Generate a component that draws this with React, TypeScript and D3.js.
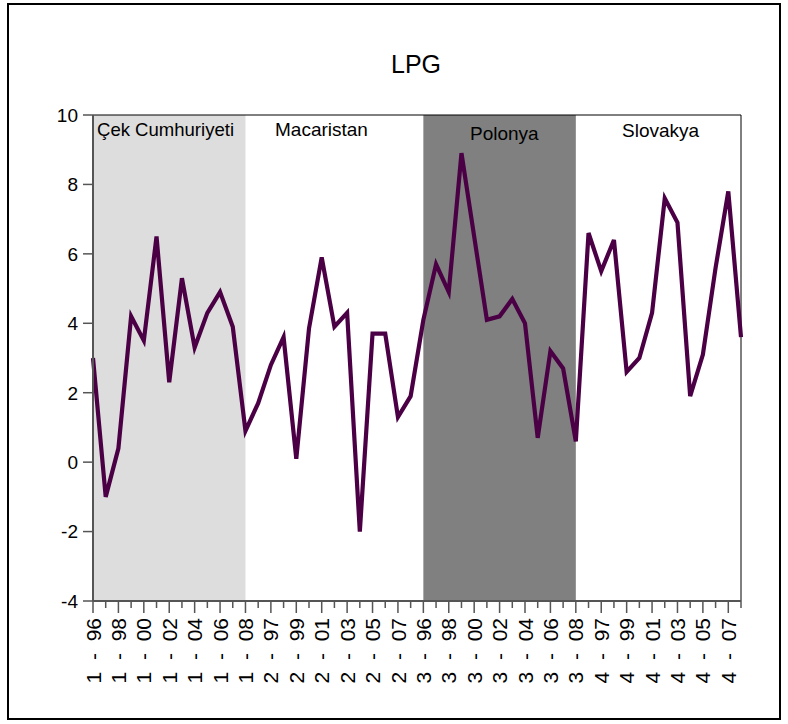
import React from "react";
import * as d3 from "d3";

const title = "LPG";
const panels = ["Çek Cumhuriyeti", "Macaristan", "Polonya", "Slovakya"];
const years = ["96", "97", "98", "99", "00", "01", "02", "03", "04", "05", "06", "07", "08"];
const cekValues = [3.0, -1.0, 0.4, 4.2, 3.5, 6.5, 2.3, 5.3, 3.3, 4.3, 4.9, 3.9, 0.9];
const macValues = [1.7, 2.8, 3.6, 0.1, 3.85, 5.9, 3.9, 4.3, -2.0, 3.7, 3.7, 1.3, 1.9];
const polValues = [4.1, 5.7, 4.9, 8.9, 6.5, 4.1, 4.2, 4.7, 4.0, 0.7, 3.2, 2.7, 0.6];
const slvValues = [6.6, 5.5, 6.4, 2.6, 3.0, 4.3, 7.6, 6.9, 1.9, 3.1, 5.6, 7.8, 3.6];
const yTicks = [-4, -2, 0, 2, 4, 6, 8, 10];

const panelFills = ["#DDDDDD", "none", "#808080", "none"];

const FONT = "'Liberation Sans', Arial, Helvetica, sans-serif";

export default function App() {
  const W = 788, H = 724;
  const left = 93, right = 741, top = 115, bottom = 601;
  const all = [cekValues, macValues, polValues, slvValues].flat();
  const labels: string[] = [];
  panels.forEach((_, p) => years.forEach((y) => labels.push(`${p + 1} - ${y}`)));
  const n = all.length;
  const x = d3.scaleLinear().domain([0, n - 1]).range([left, right]);
  const y = d3.scaleLinear().domain([-4, 10]).range([bottom, top]);
  const line = d3.line<number>().x((_, i) => x(i)).y((d) => y(d));
  const per = years.length;

  const panelLabelPos = [
    { x0: 97, by: 136, len: 137 },
    { x0: 275, by: 136, len: 0 },
    { x0: 470, by: 140, len: 0 },
    { x0: 622, by: 137, len: 0 },
  ];

  return (
    <svg width={W} height={H} style={{ position: "absolute", left: 0, top: 0 }} fontFamily={FONT}>
      <rect x={0} y={0} width={W} height={H} fill="#fff" />
      <rect x={8} y={4} width={772} height={715} fill="none" stroke="#000" strokeWidth={2} />
      <text x={416} y={73} fontSize={25} textAnchor="middle" fill="#000">{title}</text>
      {/* shading */}
      {panels.map((_, p) =>
        panelFills[p] === "none" ? null : (
          <rect key={p} x={x(p * per)} y={top} width={x(p * per + per - 1) - x(p * per)} height={bottom - top} fill={panelFills[p]} />
        )
      )}
      {/* frame top/right */}
      <line x1={left} x2={right} y1={top} y2={top} stroke="#000" strokeWidth={1} />
      <line x1={right} x2={right} y1={top} y2={bottom} stroke="#000" strokeWidth={1} />
      {/* panel labels */}
      {panels.map((name, p) => (
        <text
          key={name}
          x={panelLabelPos[p].x0}
          y={panelLabelPos[p].by}
          fontSize={19}
          textAnchor="start"
          fill="#000"
          {...(panelLabelPos[p].len ? { textLength: panelLabelPos[p].len, lengthAdjust: "spacingAndGlyphs" } : {})}
        >
          {name}
        </text>
      ))}
      {/* series line */}
      <path d={line(all) || ""} fill="none" stroke="#4B0045" strokeWidth={4.2} strokeLinejoin="miter" />
      {/* y axis */}
      <line x1={left} x2={left} y1={top} y2={bottom} stroke="#555" strokeWidth={2} />
      {yTicks.map((t) => (
        <g key={t}>
          <line x1={left - 10} x2={left} y1={y(t)} y2={y(t)} stroke="#555" strokeWidth={1.5} />
          <text x={78} y={y(t)} dy="0.36em" fontSize={19} textAnchor="end" fill="#000">{t}</text>
        </g>
      ))}
      {/* x axis */}
      <line x1={left} x2={right} y1={bottom} y2={bottom} stroke="#555" strokeWidth={2} />
      {labels.map((lab, i) => {
        const major = i % 2 === 0;
        const xi = x(i);
        return (
          <g key={i}>
            <line x1={xi} x2={xi} y1={bottom} y2={bottom + (major ? 12 : 7)} stroke="#555" strokeWidth={1.5} />
            {major ? (
              <text transform={`translate(${xi},618) rotate(-90)`} dy="0.36em" fontSize={21} textAnchor="end" fill="#000" style={{ whiteSpace: "pre" }}>{lab.replace(" - ", "  -  ")}</text>
            ) : null}
          </g>
        );
      })}
    </svg>
  );
}
